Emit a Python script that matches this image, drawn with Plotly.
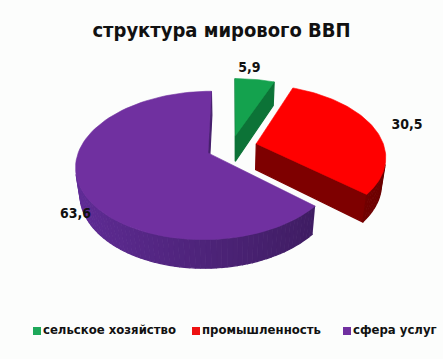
import numpy as np
import plotly.graph_objects as go

# ---- data ----
categories = ["сельское хозяйство", "промышленность", "сфера услуг"]
values = [5.9, 30.5, 63.6]
title_text = "структура мирового ВВП"

# ---- style ----
top_colors = ["#14a24e", "#ff0000", "#7030a0"]
side_rgb = [(14, 128, 62), (140, 0, 0), (78, 36, 122)]
legend_colors = ["#1ea85a", "#ee1111", "#7030a0"]
pulls = [0.17, 0.2, 0.2]
label_r = [1.21, 1.28, 1.06]
label_dt = [-4.0, 1.5, 0.0]   # degrees
label_z = [0.0, 0.0, -1.0]    # fraction of thickness
legend_x = [37, 196, 347]     # px, square centres
legend_y = 331
FONT = "DejaVu Sans Condensed, Liberation Sans, Arial, sans-serif"

W, H_PX = 443, 359
PHI = np.radians(33.2)
DIST = 5.02
SCALE = 128.0
CX, CY = 231.6, 147.0
THICK = 0.25
SPH, CPH = np.sin(PHI), np.cos(PHI)
CAM = np.array([0.0, -DIST * CPH, DIST * SPH])


def proj(X, Y, Z):
    X, Y, Z = np.asarray(X, float), np.asarray(Y, float), np.asarray(Z, float)
    yc = Y * SPH + Z * CPH
    zc = Y * CPH - Z * SPH + DIST
    return CX + SCALE * X * DIST / zc, CY - SCALE * yc * DIST / zc


def front(n, p):
    return np.dot(n, CAM - p) > 0


def rgb(c, f):
    return "rgb(%d,%d,%d)" % tuple(int(max(0, min(255, v * f))) for v in c)


fig = go.Figure()
total = sum(values)
start = 0.0
for i, v in enumerate(values):
    t0 = start
    t1 = start + 2 * np.pi * v / total
    start = t1
    tm = (t0 + t1) / 2
    ox, oy = pulls[i] * np.sin(tm), pulls[i] * np.cos(tm)

    faces = []
    # radial faces
    for t, sgn in ((t0, -1), (t1, 1)):
        n = np.array([sgn * np.cos(t), -sgn * np.sin(t), 0.0])
        rx, ry = ox + np.sin(t), oy + np.cos(t)
        p = np.array([(ox + rx) / 2, (oy + ry) / 2, -THICK / 2])
        if front(n, p):
            X = [ox, rx, rx, ox, ox]
            Y = [oy, ry, ry, oy, oy]
            Z = [0, 0, -THICK, -THICK, 0]
            faces.append((X, Y, Z, rgb(side_rgb[i], 0.9)))
    # outer wall segments
    nseg = max(2, int(np.degrees(t1 - t0) / 2))
    edges = np.linspace(t0, t1, nseg + 1)
    for a, b in zip(edges[:-1], edges[1:]):
        m = (a + b) / 2
        n = np.array([np.sin(m), np.cos(m), 0.0])
        p = np.array([ox + np.sin(m), oy + np.cos(m), -THICK / 2])
        if not front(n, p):
            continue
        tt = np.linspace(a, b, 4)
        X = list(ox + np.sin(tt)) + list(ox + np.sin(tt[::-1]))
        Y = list(oy + np.cos(tt)) + list(oy + np.cos(tt[::-1]))
        Z = [0] * 4 + [-THICK] * 4
        f = 1.0 - 0.25 * np.sin(m)
        faces.append((X, Y, Z, rgb(side_rgb[i], f)))
    for X, Y, Z, col in faces:
        sx, sy = proj(X, Y, Z)
        fig.add_trace(go.Scatter(x=sx, y=sy, mode="lines", fill="toself",
                                 fillcolor=col, line=dict(color=col, width=1.2),
                                 hoverinfo="skip", showlegend=False))
    # top face
    tt = np.linspace(t0, t1, 80)
    X = [ox] + list(ox + np.sin(tt)) + [ox]
    Y = [oy] + list(oy + np.cos(tt)) + [oy]
    sx, sy = proj(X, Y, np.zeros(len(X)))
    fig.add_trace(go.Scatter(x=sx, y=sy, mode="lines", fill="toself",
                             fillcolor=top_colors[i],
                             line=dict(color=top_colors[i], width=0.6),
                             name=categories[i], hoverinfo="name", showlegend=False))
    # label
    tl = tm + np.radians(label_dt[i])
    lx, ly = ox + label_r[i] * np.sin(tl), oy + label_r[i] * np.cos(tl)
    px, py = proj([lx], [ly], [label_z[i] * THICK])
    fig.add_trace(go.Scatter(x=px, y=py, mode="text",
                             text=["<b>" + f"{v:.1f}".replace(".", ",") + "</b>"],
                             textfont=dict(family=FONT, size=14, color="#111111"),
                             hoverinfo="skip", showlegend=False))

# legend (drawn as a marker+text trace)
fig.add_trace(go.Scatter(
    x=legend_x, y=[legend_y] * len(categories), mode="markers+text",
    marker=dict(symbol="square", size=8, color=legend_colors),
    text=["<b>" + c + "</b>" for c in categories], textposition="middle right",
    textfont=dict(family=FONT, size=13, color="#111111"),
    hoverinfo="skip", showlegend=False))

fig.update_layout(
    width=W, height=H_PX,
    margin=dict(l=0, r=0, t=0, b=0),
    paper_bgcolor="#fcfdfc", plot_bgcolor="rgba(0,0,0,0)",
    xaxis=dict(range=[0, W], visible=False, fixedrange=True),
    yaxis=dict(range=[H_PX, 0], visible=False, fixedrange=True),
    title=dict(text="<b>" + title_text + "</b>", x=0.5, xanchor="center",
               y=1 - 30 / H_PX, yanchor="middle",
               font=dict(family=FONT, size=20, color="#111111")),
    showlegend=False,
)

fig.write_html("out.html")
